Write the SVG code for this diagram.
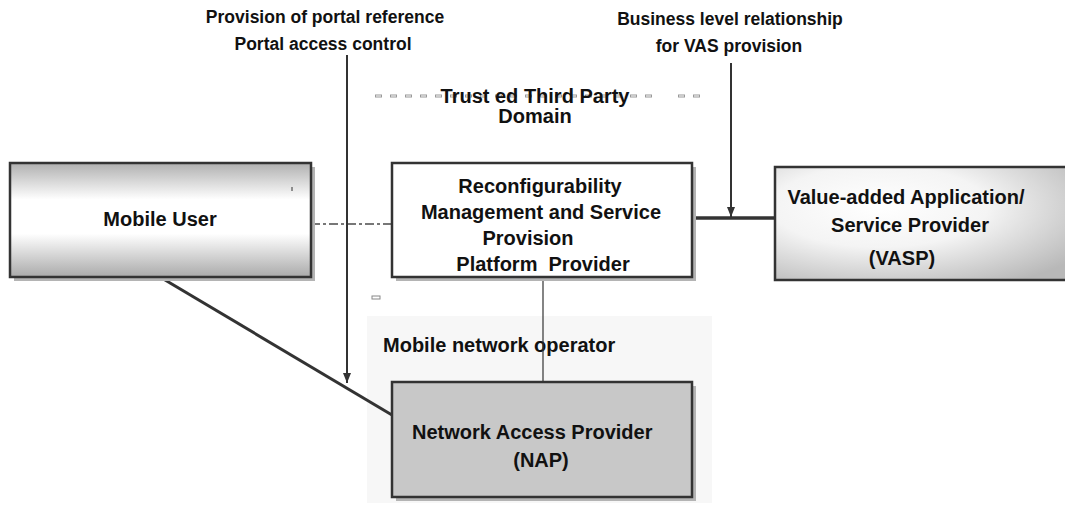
<svg xmlns="http://www.w3.org/2000/svg" width="1065" height="506" viewBox="0 0 1065 506">
<style>
text{font-family:"Liberation Sans",Arial,sans-serif;font-weight:bold;fill:#111}
.t20{font-size:20px}
.t17{font-size:17.5px}
.box{stroke:#333;stroke-width:2.5}
.shadow{fill:#b4b4b4}
.conn{stroke:#333;fill:none}
.dsh{stroke:#999;stroke-width:3;stroke-dasharray:7 8}
.dshw{stroke:#fff;stroke-width:1;stroke-dasharray:5 10;stroke-dashoffset:-1}
</style>
<defs>
<linearGradient id="gMU" x1="0" y1="0" x2="0" y2="1">
<stop offset="0" stop-color="#b0b0b0"/>
<stop offset="0.32" stop-color="#ffffff"/>
<stop offset="0.62" stop-color="#ffffff"/>
<stop offset="1" stop-color="#aaaaaa"/>
</linearGradient>
<radialGradient id="gVA" cx="0.35" cy="0.35" r="0.8">
<stop offset="0" stop-color="#ffffff"/>
<stop offset="0.45" stop-color="#f4f4f4"/>
<stop offset="1" stop-color="#b8b8b8"/>
</radialGradient>
<marker id="ah" markerWidth="10" markerHeight="8" refX="10" refY="4" orient="auto" markerUnits="userSpaceOnUse" viewBox="0 0 10 8">
<path d="M0,0 L10,4 L0,8 Z" fill="#333"/>
</marker>
</defs>

<g id="mno-domain">
<rect x="367" y="316" width="345" height="187" fill="#f7f7f7"/>
<text class="t20" x="383" y="352">Mobile network operator</text>
</g>

<g id="trusted-domain">
<line class="dsh" x1="375" y1="96" x2="655" y2="96"/>
<line class="dsh" x1="678" y1="96" x2="702" y2="96"/>
<line class="dshw" x1="375" y1="96" x2="655" y2="96"/>
<line class="dshw" x1="678" y1="96" x2="702" y2="96"/>
<rect x="372" y="296" width="8" height="3" fill="#fff" stroke="#888" stroke-width="1"/>
<text class="t20" x="535" y="103" text-anchor="middle">Trust ed Third Party</text>
<text class="t20" x="535" y="123" text-anchor="middle">Domain</text>
</g>

<g id="labels">
<text class="t17" x="325" y="23" text-anchor="middle">Provision of portal reference</text>
<text class="t17" x="323" y="50" text-anchor="middle">Portal access control</text>
<text class="t17" x="730" y="25" text-anchor="middle">Business level relationship</text>
<text class="t17" x="729" y="52" text-anchor="middle">for VAS provision</text>
</g>

<g id="connectors">
<line x1="311" y1="224" x2="392" y2="224" stroke="#777" stroke-width="2" stroke-dasharray="9 3 3 3"/>
<line class="conn" x1="160" y1="277" x2="392" y2="415" stroke-width="3"/>
<line class="conn" x1="543" y1="277" x2="543" y2="382" stroke-width="1.2"/>
<line class="conn" x1="689" y1="218" x2="775" y2="218" stroke-width="3.5"/>
<line class="conn" x1="347" y1="55" x2="347" y2="383" stroke-width="2" marker-end="url(#ah)"/>
<line class="conn" x1="731" y1="63" x2="731" y2="217" stroke-width="2" marker-end="url(#ah)"/>
</g>

<g id="mobile-user">
<rect class="shadow" x="14" y="167" width="301" height="114"/>
<rect class="box" x="10" y="163" width="301" height="114" fill="url(#gMU)"/>
<line x1="292" y1="187" x2="292" y2="191" stroke="#333" stroke-width="1"/>
<text class="t20" x="160" y="226" text-anchor="middle">Mobile User</text>
</g>

<g id="rmsp">
<rect class="shadow" x="396" y="167" width="300" height="114"/>
<rect class="box" x="392" y="163" width="300" height="114" fill="#fff"/>
<text class="t20" x="540" y="193" text-anchor="middle">Reconfigurability</text>
<text class="t20" x="541" y="219" text-anchor="middle">Management and Service</text>
<text class="t20" x="528" y="245" text-anchor="middle">Provision</text>
<text class="t20" x="543" y="271" text-anchor="middle" xml:space="preserve">Platform  Provider</text>
</g>

<g id="vasp">
<rect class="box" x="775" y="167" width="300" height="113" fill="url(#gVA)"/>
<text class="t20" x="906" y="204" text-anchor="middle">Value-added Application/</text>
<text class="t20" x="910" y="232" text-anchor="middle">Service Provider</text>
<text class="t20" x="902" y="265" text-anchor="middle">(VASP)</text>
</g>

<g id="nap">
<rect class="shadow" x="396" y="386" width="300" height="115"/>
<rect class="box" x="392" y="382" width="300" height="115" fill="#c8c8c8"/>
<text class="t20" x="412" y="439">Network Access Provider</text>
<text class="t20" x="541" y="467" text-anchor="middle">(NAP)</text>
</g>
</svg>
